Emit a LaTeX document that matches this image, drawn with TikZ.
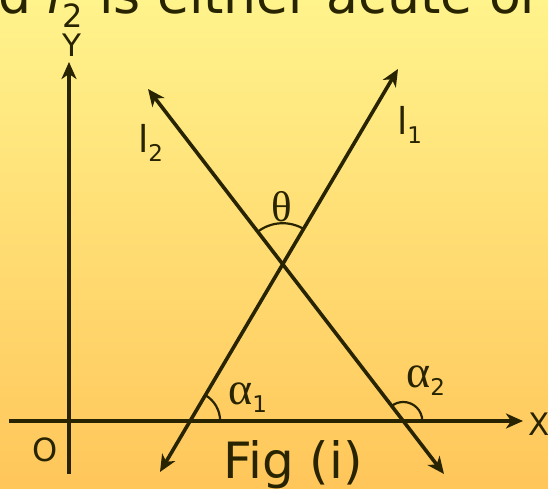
\documentclass[tikz,border=0pt]{standalone}
\usepackage{fontspec}
\setmainfont{DejaVu Sans}
\newfontfamily\grk{Liberation Serif}
\usetikzlibrary{arrows.meta,angles}
\definecolor{ink}{RGB}{40,36,0}
\definecolor{bgtop}{RGB}{255,243,140}
\definecolor{bgmid}{RGB}{255,224,114}
\definecolor{bgbot}{RGB}{255,198,90}
\newcommand{\fs}[1]{\fontsize{#1}{#1}\selectfont}
\newcommand{\lowsub}[3]{{\fs{#1}\raisebox{-#2pt}{#3}}}
\begin{document}
\begin{tikzpicture}[x=1pt,y=1pt,
  >={Stealth[length=17pt,width=15pt,inset=5pt]},
  lab/.style={inner sep=0pt, text=ink, anchor=base west},
  clab/.style={inner sep=0pt, text=ink, anchor=center},
  ln/.style={draw=ink, line width=3.6pt},
  arcmark/.style={draw=ink, line width=2.2pt}]
\useasboundingbox (0,0) rectangle (548,489);
\clip (0,0) rectangle (548,489);
\shade[top color=bgtop, middle color=bgmid, bottom color=bgbot] (0,0) rectangle (548,489);

% heading fragment (cut off at the top)
\node[lab, font=\fs{52}] (head) at (-2,475) {d \textit{l}\lowsub{32}{14}{2} is either acute or};

% axes
\coordinate (ob) at (69,15);
\coordinate (ot) at (69,427);
\coordinate (xl) at (9,68);
\coordinate (xr) at (523,68);
\draw[ln, ->] (ob) -- (ot);
\draw[ln, ->] (xl) -- (xr);

% lines
\coordinate (l1a) at (160,17);
\coordinate (l1b) at (398,420);
\coordinate (l2a) at (148,400);
\coordinate (l2b) at (444,15);
\draw[ln, <->] (l1a) -- (l1b);
\draw[ln, <->] (l2a) -- (l2b);

\coordinate (I) at (intersection of l1a--l1b and l2a--l2b);
\coordinate (A1) at (intersection of l1a--l1b and xl--xr);
\coordinate (A2) at (intersection of l2a--l2b and xl--xr);

% angle marks
\pic[arcmark, angle radius=41pt] {angle = l1b--I--l2a};
\pic[arcmark, angle radius=30pt] {angle = xr--A1--l1b};
\pic[arcmark, angle radius=19pt] {angle = xr--A2--l2a};

% labels
\node[clab, font=\fs{31}] (ylab) at (72,444) {Y};
\node[clab, font=\fs{31}] (xlab) at (539,65) {X};
\node[clab, font=\fs{32}] (olab) at (45,39) {O};
\node[lab, font=\fs{37}] (l1lab) at (397,354) {l\lowsub{23}{9}{1}};
\node[lab, font=\fs{37}] (l2lab) at (138,336) {l\lowsub{23}{9}{2}};
\node[clab] (thlab) at (282,282) {\grk\fs{43}θ};
\node[lab] (a1lab) at (228,84) {{\grk\fs{46}α}\lowsub{23}{8}{1}};
\node[lab] (a2lab) at (406,101) {{\grk\fs{46}α}\lowsub{23}{8}{2}};
\node[lab, font=\fs{50}] (fig) at (223,10) {Fig (i)};
\end{tikzpicture}
\end{document}
